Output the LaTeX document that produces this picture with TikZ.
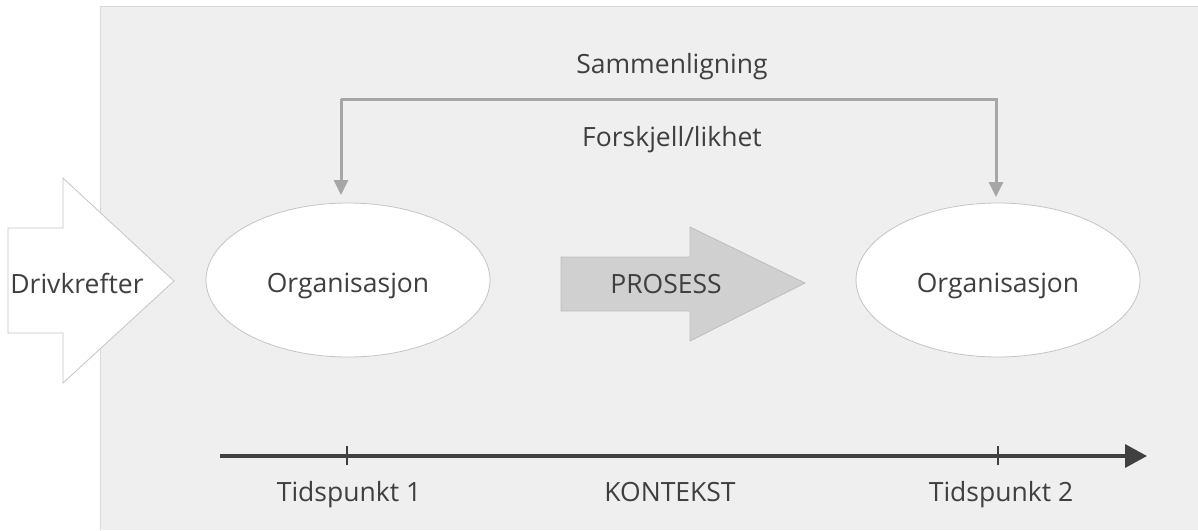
\documentclass[tikz,border=0pt]{standalone}
\usepackage{fontspec}
\setmainfont{Open Sans}
\usetikzlibrary{arrows.meta,shapes.geometric}

\definecolor{txtgray}{HTML}{3F3F3F}
\definecolor{bggray}{HTML}{EFEFEF}
\definecolor{bgedge}{HTML}{DADADA}
\definecolor{linkgray}{HTML}{A6A6A6}
\definecolor{axisgray}{HTML}{404040}
\definecolor{procfill}{HTML}{D0D0D0}
\definecolor{procedge}{HTML}{BDBDBD}
\definecolor{shapeedge}{HTML}{C4C4C4}

\tikzset{
  label/.style={inner sep=0pt, anchor=base, text=txtgray,
    font=\fontsize{26.5}{32}\selectfont},
  org/.style={ellipse, draw=shapeedge, line width=0.8pt, fill=white,
    minimum width=284pt, minimum height=154pt, inner sep=0pt},
  drivarrow/.style={draw=shapeedge, line width=0.8pt, fill=white, line join=miter},
  procarrow/.style={draw=procedge, line width=0.8pt, fill=procfill, line join=miter},
  compare/.style={draw=linkgray, line width=3pt,
    -{Triangle[length=15pt, width=14pt]}},
  timeaxis/.style={draw=axisgray, line width=3.5pt,
    -{Triangle[length=22pt, width=23pt]}},
  tick/.style={draw=axisgray, line width=1.6pt},
}

\begin{document}
\begin{tikzpicture}[x=1pt, y=-1pt]
\useasboundingbox (0,0) rectangle (1198,530);

% context panel
\fill[bggray] (100,6) rectangle (1198,530);
\draw[bgedge, line width=1pt] (100,530) -- (100,6) -- (1198,6);

% driving forces arrow
\draw[drivarrow] (8,228) -- (63,228) -- (63,178) -- (174,281)
  -- (63,383) -- (63,333) -- (8,333) -- cycle;
\node[label] (driv) at (77,293) {Drivkrefter};

% organisation at the two points in time
\node[org] (org1) at (348,280) {};
\node[org] (org2) at (998,280) {};
\node[label] (org1txt) at (348,292) {Organisasjon};
\node[label] (org2txt) at (998,292) {Organisasjon};

% process arrow
\draw[procarrow] (561,257) -- (690,257) -- (690,227) -- (805,283)
  -- (690,341) -- (690,311) -- (561,311) -- cycle;
\node[label] (proc) at (666,293) {PROSESS};

% comparison bracket
\coordinate (cmpL) at (341,195);
\coordinate (cmpR) at (996,197);
\coordinate (cmpTL) at (341,99);
\coordinate (cmpTR) at (996,99);
\draw[compare] (cmpTL) -- (cmpL);
\draw[compare] (cmpTL) -- (cmpTR) -- (cmpR);
\node[label] (samm) at (672,73) {Sammenligning};
\node[label] (forsk) at (672,146) {Forskjell/likhet};

% time axis
\coordinate (axStart) at (220,456);
\coordinate (axEnd) at (1147,456);
\draw[timeaxis] (axStart) -- (axEnd);
\coordinate (t1a) at (347,446);
\coordinate (t1b) at (347,465);
\coordinate (t2a) at (998,446);
\coordinate (t2b) at (998,465);
\draw[tick] (t1a) -- (t1b);
\draw[tick] (t2a) -- (t2b);
\node[label] (tid1) at (349,501) {Tidspunkt 1};
\node[label] (kont) at (670,501) {KONTEKST};
\node[label] (tid2) at (1001,501) {Tidspunkt 2};
\end{tikzpicture}
\end{document}
